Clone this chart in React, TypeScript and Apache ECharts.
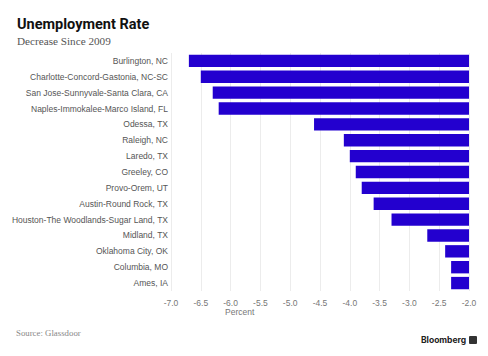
import React, { useEffect, useRef } from "react";
import * as echarts from "echarts";

const categories = [
  "Burlington, NC",
  "Charlotte-Concord-Gastonia, NC-SC",
  "San Jose-Sunnyvale-Santa Clara, CA",
  "Naples-Immokalee-Marco Island, FL",
  "Odessa, TX",
  "Raleigh, NC",
  "Laredo, TX",
  "Greeley, CO",
  "Provo-Orem, UT",
  "Austin-Round Rock, TX",
  "Houston-The Woodlands-Sugar Land, TX",
  "Midland, TX",
  "Oklahoma City, OK",
  "Columbia, MO",
  "Ames, IA",
];
const values = [-6.7, -6.5, -6.3, -6.2, -4.6, -4.1, -4.0, -3.9, -3.8, -3.6, -3.3, -2.7, -2.4, -2.3, -2.3];
const axisMin = -7;
const axisMax = -2;
const axisInterval = 0.5;

export default function App() {
  const ref = useRef<HTMLDivElement>(null);
  useEffect(() => {
    const chart = echarts.init(ref.current!, null, { renderer: "svg" });
    chart.setOption({
      animation: false,
      backgroundColor: "#ffffff",
      grid: { left: 171, right: 19, top: 53, bottom: 65, containLabel: false },
      title: [
        {
          text: "Unemployment Rate",
          left: 12,
          top: 12,
          textStyle: { fontFamily: "Roboto, Inter, sans-serif", fontWeight: "bold", fontSize: 14.5, color: "#111" },
        },
        {
          text: "Decrease Since 2009",
          left: 12,
          top: 30,
          textStyle: { fontFamily: "'Liberation Serif', serif", fontWeight: "normal", fontSize: 11.2, color: "#555" },
        },
      ],
      xAxis: {
        type: "value",
        min: axisMin,
        max: axisMax,
        interval: axisInterval,
        axisLine: { show: false },
        axisTick: { show: false },
        splitLine: { show: true, lineStyle: { color: "#ececec", width: 1 } },
        axisLabel: {
          color: "#777",
          fontSize: 8.5,
          fontFamily: "'Liberation Sans', Arial, sans-serif",
          margin: 7,
          formatter: (v: number) => v.toFixed(1),
        },
      },
      yAxis: {
        type: "category",
        data: categories,
        inverse: true,
        axisLine: { show: false },
        axisTick: { show: false },
        axisLabel: {
          color: "#555",
          fontSize: 8.5,
          fontFamily: "'Liberation Sans', Arial, sans-serif",
          margin: 3,
        },
      },
      series: [
        {
          type: "bar",
          data: values,
          clip: true,
          barCategoryGap: "22%",
          itemStyle: { color: "#2300cf" },
        },
      ],
      graphic: [
        {
          type: "text",
          left: 225,
          top: 307,
          style: { text: "Percent", fill: "#777", fontSize: 8.5, fontFamily: "'Liberation Sans', Arial, sans-serif" },
        },
        {
          type: "text",
          left: 16,
          top: 328,
          style: { text: "Source: Glassdoor", fill: "#888", fontSize: 8.8, fontFamily: "'Liberation Serif', serif" },
        },
        {
          type: "text",
          left: 421,
          top: 335,
          style: { text: "Bloomberg", fill: "#222", fontSize: 8.5, fontWeight: "bold", fontFamily: "Inter, Roboto, sans-serif" },
        },
        {
          type: "rect",
          shape: { x: 469, y: 336, width: 8, height: 8, r: 1 },
          style: { fill: "#333" },
        },
      ],
    });
    return () => chart.dispose();
  }, []);
  return <div ref={ref} style={{ width: 488, height: 356, position: "absolute", left: 0, top: 0 }} />;
}
